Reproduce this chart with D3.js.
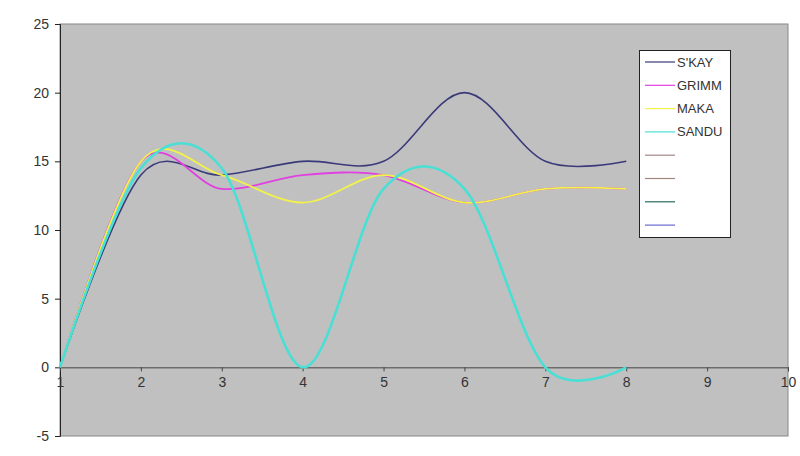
<!DOCTYPE html>
<html><head><meta charset="utf-8">
<script src="https://cdn.jsdelivr.net/npm/d3@7"></script>
<style>body{margin:0;background:#fff}svg{display:block}</style>
</head><body>
<svg id="chart" width="800" height="456"></svg>
<script>
const xValues = [1, 2, 3, 4, 5, 6, 7, 8];
const skay  = [0, 14, 14, 15, 15, 20, 15, 15];
const grimm = [0, 15, 13, 14, 14, 12, 13, 13];
const maka  = [0, 15, 14, 12, 14, 12, 13, 13];
const sandu = [0, 14.5, 14.5, 0, 13, 13, 0, 0];
const seriesNames = ["S'KAY", "GRIMM", "MAKA", "SANDU", "", "", "", ""];
const seriesColors = ["#3a3a7a", "#e040e0", "#f2f24a", "#48e0d4", "#a08888", "#a08880", "#2a6a60", "#6a6ad0"];
const seriesWidths = [1.6, 1.8, 1.8, 2.6];
const xTicks = [1, 2, 3, 4, 5, 6, 7, 8, 9, 10];
const yTicks = [-5, 0, 5, 10, 15, 20, 25];

const seriesData = [skay, grimm, maka, sandu];

const svg = d3.select("#chart");
const x = d3.scaleLinear().domain([1, 10]).range([60, 788]);
const y = d3.scaleLinear().domain([-5, 25]).range([436, 24]);

// plot area
svg.append("rect").attr("x", 60).attr("y", 24).attr("width", 728).attr("height", 412)
  .attr("fill", "#c0c0c0").attr("stroke", "#888").attr("stroke-width", 1);

// y axis
const yAxis = d3.axisLeft(y).tickValues(yTicks).tickSize(5).tickPadding(6).tickFormat(d => String(d));
const gy = svg.append("g").attr("transform", "translate(60,0)").call(yAxis);
gy.select(".domain").attr("stroke", "#222");
gy.selectAll(".tick line").attr("stroke", "#222");
gy.selectAll("text").attr("font-family", "Arial, 'Liberation Sans', sans-serif").attr("font-size", 14).attr("fill", "#333");

// x axis at y=0
const xAxis = d3.axisBottom(x).tickValues(xTicks).tickSize(4).tickPadding(6).tickFormat(d => String(d));
const gx = svg.append("g").attr("transform", `translate(0,${y(0)})`).call(xAxis);
gx.select(".domain").attr("stroke", "#444");
gx.selectAll(".tick line").attr("stroke", "#444");
gx.selectAll("text").attr("font-family", "Arial, 'Liberation Sans', sans-serif").attr("font-size", 14).attr("fill", "#333");

// lines
const line = d3.line().x((d, i) => x(xValues[i])).y(d => y(d)).curve(d3.curveCatmullRom.alpha(0));
seriesData.forEach((s, k) => {
  svg.append("path").datum(s).attr("d", line).attr("fill", "none")
    .attr("stroke", seriesColors[k]).attr("stroke-width", seriesWidths[k]);
});

// legend
const lg = svg.append("g");
lg.append("rect").attr("x", 639.5).attr("y", 50.5).attr("width", 91).attr("height", 187)
  .attr("fill", "#fff").attr("stroke", "#222").attr("stroke-width", 1);
seriesNames.forEach((n, i) => {
  const yy = 62 + i * 23.3;
  lg.append("line").attr("x1", 645).attr("x2", 675).attr("y1", yy).attr("y2", yy)
    .attr("stroke", seriesColors[i]).attr("stroke-width", 1.2);
  lg.append("text").attr("x", 677).attr("y", yy + 4.5).text(n)
    .attr("font-family", "Arial, 'Liberation Sans', sans-serif").attr("font-size", 13).attr("fill", "#333");
});
</script>
</body></html>
